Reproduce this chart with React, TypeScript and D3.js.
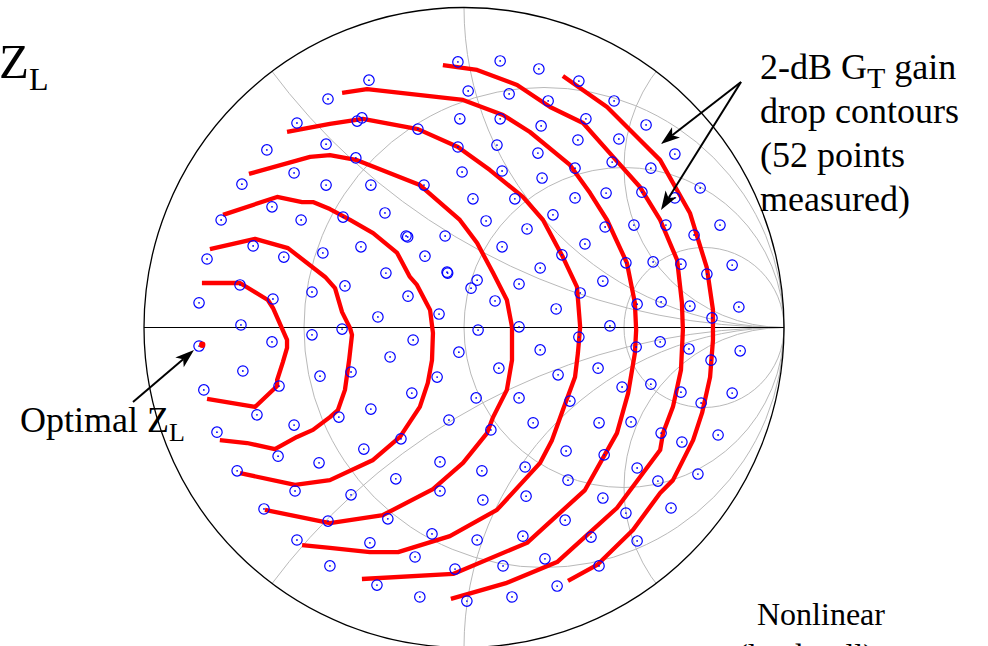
import React from "react";
import * as d3 from "d3";

// Reflection coefficients (Re Γ, Im Γ) of the measured load impedances
const measuredGamma: [number, number][] = [
  [-0.019, 0.83], [0.113, 0.833], [0.234, 0.808], [0.359, 0.77], [-0.297, 0.773],
  [0.013, 0.739], [0.141, 0.73], [0.263, 0.708], [0.469, 0.708], [-0.425, 0.714],
  [-0.334, 0.645], [-0.319, 0.655], [-0.013, 0.652], [0.113, 0.652], [0.241, 0.63],
  [0.381, 0.652], [0.569, 0.633], [-0.144, 0.62], [0.356, 0.586], [0.484, 0.589],
  [-0.431, 0.573], [-0.019, 0.564], [0.103, 0.57], [0.231, 0.545], [0.347, 0.498],
  [0.463, 0.517], [0.584, 0.498], [-0.338, 0.53], [-0.431, 0.445], [-0.006, 0.486],
  [0.119, 0.489], [0.244, 0.467], [-0.291, 0.445], [-0.125, 0.445], [0.028, 0.402],
  [0.159, 0.402], [0.347, 0.405], [0.444, 0.42], [0.556, 0.423], [-0.247, 0.358],
  [-0.378, 0.345], [0.069, 0.333], [0.278, 0.352], [-0.522, 0.639], [-0.616, 0.555],
  [-0.531, 0.483], [-0.694, 0.448], [-0.6, 0.377], [-0.509, 0.336], [-0.759, 0.336],
  [0.659, 0.542], [0.738, 0.436], [0.659, 0.405], [-0.659, 0.255], [-0.563, 0.22],
  [-0.441, 0.233], [-0.803, 0.214], [-0.7, 0.133], [-0.597, 0.089], [-0.475, 0.111],
  [-0.828, 0.077], [-0.697, 0.008], [-0.475, -0.023], [-0.828, -0.058], [-0.6, -0.045],
  [-0.691, -0.136], [-0.45, -0.152], [-0.813, -0.195], [-0.578, -0.183], [-0.647, -0.273],
  [-0.531, -0.305], [-0.772, -0.327], [0.197, 0.308], [0.441, 0.314], [0.531, 0.32],
  [-0.322, 0.252], [-0.181, 0.286], [-0.176, 0.283], [-0.059, 0.286], [0.119, 0.252],
  [0.378, 0.261], [-0.122, 0.223], [0.306, 0.227], [0.506, 0.202], [0.591, 0.205],
  [-0.244, 0.17], [-0.053, 0.173], [-0.051, 0.17], [0.238, 0.186], [0.434, 0.145],
  [-0.372, 0.13], [-0.175, 0.098], [0.041, 0.148], [0.022, 0.123], [0.172, 0.136],
  [0.363, 0.108], [0.541, 0.073], [0.616, 0.08], [-0.269, 0.033], [-0.078, 0.042],
  [0.097, 0.083], [0.288, 0.058], [-0.381, -0.005], [0.044, -0.008], [0.172, 0.002],
  [0.456, 0.005], [-0.159, -0.039], [0.359, -0.03], [0.538, -0.061], [0.613, -0.045],
  [-0.231, -0.092], [-0.016, -0.077], [0.238, -0.07], [-0.353, -0.139], [0.109, -0.127],
  [0.419, -0.127], [-0.084, -0.155], [0.294, -0.148], [0.494, -0.186], [0.584, -0.177],
  [-0.163, -0.205], [0.038, -0.22], [0.172, -0.22], [0.331, -0.23], [-0.291, -0.255],
  [-0.391, -0.28], [-0.047, -0.289], [0.216, -0.298], [0.422, -0.298], [0.522, -0.295],
  [-0.197, -0.348], [0.084, -0.32], [0.616, -0.33], [0.631, 0.32], [0.8, 0.32],
  [0.719, 0.289], [0.678, 0.198], [0.838, 0.195], [0.759, 0.167], [0.706, 0.067],
  [0.859, 0.064], [0.775, 0.03], [0.703, -0.067], [0.863, -0.073], [0.772, -0.102],
  [0.678, -0.202], [0.838, -0.205], [0.741, -0.236], [0.681, -0.358], [0.794, -0.336],
  [-0.581, -0.402], [-0.453, -0.423], [-0.709, -0.448], [-0.528, -0.511], [-0.625, -0.567],
  [-0.425, -0.605], [-0.522, -0.664], [-0.419, -0.745], [-0.313, -0.38], [-0.075, -0.42],
  [0.056, -0.448], [0.319, -0.386], [0.438, -0.398], [-0.213, -0.473], [0.191, -0.436],
  [0.325, -0.477], [0.541, -0.439], [0.606, -0.48], [-0.353, -0.523], [-0.075, -0.511],
  [0.059, -0.539], [0.194, -0.527], [0.434, -0.533], [-0.238, -0.598], [0.316, -0.602],
  [0.506, -0.58], [-0.1, -0.645], [0.041, -0.664], [0.184, -0.652], [0.397, -0.655],
  [0.541, -0.667], [-0.294, -0.673], [-0.153, -0.717], [-0.028, -0.755], [0.122, -0.745],
  [0.253, -0.723], [0.422, -0.745], [-0.272, -0.805], [-0.138, -0.842], [0.009, -0.855],
  [0.15, -0.842], [0.291, -0.808], [0.731, -0.458], [0.647, -0.564],
];

// Constant-gain-drop contours, innermost first (Re Γ, Im Γ)
const contour1: [number, number][] = [
  [-0.819, 0.139], [-0.7, 0.139], [-0.613, 0.086], [-0.597, 0.061], [-0.553, -0.039],
  [-0.553, -0.064], [-0.566, -0.108], [-0.584, -0.164], [-0.584, -0.183], [-0.653, -0.248],
  [-0.803, -0.223],
];
const contour2: [number, number][] = [
  [-0.794, 0.245], [-0.653, 0.277], [-0.55, 0.248], [-0.434, 0.158], [-0.403, 0.123],
  [-0.381, 0.048], [-0.356, -0.002], [-0.35, -0.023], [-0.359, -0.102], [-0.372, -0.195],
  [-0.394, -0.258], [-0.419, -0.28], [-0.472, -0.32], [-0.522, -0.342], [-0.591, -0.38],
  [-0.678, -0.361], [-0.763, -0.352],
];
const contour3: [number, number][] = [
  [-0.753, 0.352], [-0.584, 0.408], [-0.506, 0.392], [-0.472, 0.392], [-0.419, 0.37],
  [-0.356, 0.336], [-0.284, 0.295], [-0.209, 0.233], [-0.169, 0.158], [-0.147, 0.133],
  [-0.106, 0.055], [-0.097, -0.017], [-0.1, -0.102], [-0.113, -0.173], [-0.138, -0.248],
  [-0.2, -0.342], [-0.284, -0.414], [-0.419, -0.477], [-0.528, -0.492], [-0.7, -0.455],
];
const contour4: [number, number][] = [
  [-0.672, 0.48], [-0.481, 0.533], [-0.419, 0.539], [-0.334, 0.523], [-0.138, 0.445],
  [-0.013, 0.336], [0.041, 0.264], [0.091, 0.17], [0.134, 0.086], [0.15, 0.002],
  [0.15, -0.102], [0.134, -0.195], [0.091, -0.28], [0.072, -0.33], [-0.003, -0.423],
  [-0.097, -0.505], [-0.253, -0.586], [-0.419, -0.611], [-0.622, -0.57],
];
const contour5: [number, number][] = [
  [-0.553, 0.611], [-0.419, 0.636], [-0.316, 0.652], [-0.144, 0.62], [-0.019, 0.564],
  [0.081, 0.492], [0.184, 0.408], [0.247, 0.336], [0.309, 0.22], [0.353, 0.127],
  [0.363, 0.002], [0.356, -0.08], [0.347, -0.155], [0.309, -0.258], [0.275, -0.352],
  [0.238, -0.423], [0.103, -0.57], [-0.044, -0.652], [-0.206, -0.702], [-0.294, -0.702],
  [-0.419, -0.689], [-0.506, -0.68],
];
const contour6: [number, number][] = [
  [-0.381, 0.733], [-0.303, 0.745], [-0.003, 0.711], [0.122, 0.664], [0.206, 0.611],
  [0.331, 0.508], [0.394, 0.42], [0.447, 0.336], [0.509, 0.202], [0.534, 0.077],
  [0.538, -0.008], [0.534, -0.08], [0.513, -0.205], [0.478, -0.33], [0.378, -0.508],
  [0.197, -0.673], [-0.034, -0.77], [-0.319, -0.786],
];
const contour7: [number, number][] = [
  [-0.066, 0.82], [0.041, 0.805], [0.166, 0.758], [0.269, 0.689], [0.372, 0.639],
  [0.466, 0.533], [0.55, 0.439], [0.613, 0.336], [0.666, 0.211], [0.681, 0.077],
  [0.684, -0.008], [0.678, -0.133], [0.653, -0.248], [0.622, -0.33], [0.613, -0.383],
  [0.478, -0.564], [0.291, -0.733], [0.134, -0.798], [-0.041, -0.848],
];
const contour8: [number, number][] = [
  [0.309, 0.786], [0.447, 0.689], [0.55, 0.586], [0.613, 0.523], [0.706, 0.358],
  [0.759, 0.186], [0.778, 0.055], [0.778, -0.039], [0.769, -0.155], [0.744, -0.267],
  [0.716, -0.352], [0.653, -0.477], [0.613, -0.517], [0.528, -0.633], [0.416, -0.742],
  [0.325, -0.792],
];
const contours = [contour1, contour2, contour3, contour4, contour5, contour6, contour7, contour8];

// Smith chart grid: normalized resistance circles and reactance arcs
const resistanceValues = [1 / 3, 1, 3];
const reactanceValues = [0.5, 1, 2, -0.5, -1, -2];

// Best load reflection coefficient
const optimalZL: [number, number] = [-0.818, -0.054];

const SERIF = "'Liberation Serif', 'Times New Roman', Times, serif";

function arrowHead(x1: number, y1: number, x2: number, y2: number, len: number, half: number) {
  const dx = x2 - x1, dy = y2 - y1;
  const d = Math.hypot(dx, dy);
  const ux = dx / d, uy = dy / d;
  const px = -uy, py = ux;
  const bx = x2 - ux * len, by = y2 - uy * len;
  const nx = x2 - ux * len * 0.75, ny = y2 - uy * len * 0.75;
  return {
    points: [
      [x2, y2],
      [bx + px * half, by + py * half],
      [nx, ny],
      [bx - px * half, by - py * half],
    ].map((p) => p.join(",")).join(" "),
    lx: nx, ly: ny,
  };
}

function Arrow({ x1, y1, x2, y2 }: { x1: number; y1: number; x2: number; y2: number }) {
  const h = arrowHead(x1, y1, x2, y2, 19, 6.5);
  return (
    <g>
      <line x1={x1} y1={y1} x2={h.lx} y2={h.ly} stroke="#000" strokeWidth={2} />
      <polygon points={h.points} fill="#000" />
    </g>
  );
}

export default function App() {
  const W = 988, H = 646;
  const cx = 464, cy = 327.5, R = 320;
  const x = d3.scaleLinear().domain([-1, 1]).range([cx - R, cx + R]);
  const y = d3.scaleLinear().domain([-1, 1]).range([cy + R, cy - R]);
  const unit = (v: number) => x(v) - x(0);
  const line = d3.line<[number, number]>().x((d) => x(d[0])).y((d) => y(d[1]));

  const grid = "#b9b9b9";

  return (
    <div style={{ position: "absolute", left: 0, top: 0 }}>
      <svg width={W} height={H} viewBox={`0 0 ${W} ${H}`} style={{ display: "block", background: "#fff" }}>
        <defs>
          <clipPath id="unitDisk">
            <circle cx={x(0)} cy={y(0)} r={unit(1)} />
          </clipPath>
        </defs>
        <rect width={W} height={H} fill="#fff" />

        {/* Smith chart grid */}
        <g fill="none" stroke={grid} strokeWidth={1}>
          {resistanceValues.map((r) => (
            <circle key={`r${r}`} cx={x(r / (1 + r))} cy={y(0)} r={unit(1 / (1 + r))} />
          ))}
          <g clipPath="url(#unitDisk)">
            {reactanceValues.map((xv) => (
              <circle key={`x${xv}`} cx={x(1)} cy={y(1 / xv)} r={unit(Math.abs(1 / xv))} />
            ))}
          </g>
        </g>
        <line x1={x(-1)} y1={y(0)} x2={x(1)} y2={y(0)} stroke="#000" strokeWidth={1.2} />
        <circle cx={x(0)} cy={y(0)} r={unit(1)} fill="none" stroke="#000" strokeWidth={1.3} />

        {/* Gain-drop contours */}
        <g fill="none" stroke="#ff0000" strokeWidth={4.3} strokeLinejoin="round" strokeLinecap="butt">
          {contours.map((c, i) => (
            <path key={i} d={line(c) ?? ""} />
          ))}
        </g>

        {/* Measured load points */}
        <g>
          {measuredGamma.map((p, i) => (
            <g key={i}>
              <circle cx={x(p[0])} cy={y(p[1])} r={5.2} fill="none" stroke="#0000ff" strokeWidth={1.2} />
              <circle cx={x(p[0])} cy={y(p[1])} r={0.9} fill="#0000ff" />
            </g>
          ))}
        </g>
        <circle cx={x(optimalZL[0])} cy={y(optimalZL[1])} r={3.2} fill="#ff0000" />

        {/* Annotations */}
        <Arrow x1={741} y1={82} x2={661} y2={144} />
        <Arrow x1={741} y1={82} x2={661} y2={210} />
        <Arrow x1={133} y1={402} x2={194} y2={350} />

        <g fontFamily={SERIF} fill="#000">
          <text x={-1} y={78} fontSize={49}>
            Z<tspan fontSize={32} dy={12}>L</tspan>
          </text>

          <text x={20} y={432} fontSize={36}>
            Optimal Z<tspan fontSize={26} dy={9}>L</tspan>
          </text>

          <text x={760} y={79} fontSize={36}>
            2-dB G<tspan fontSize={30} dy={9}>T</tspan>
            <tspan dy={-9}> gain</tspan>
          </text>
          <text x={760} y={123} fontSize={36}>drop contours</text>
          <text x={760} y={167} fontSize={36}>(52 points</text>
          <text x={760} y={211} fontSize={36}>measured)</text>

          <text x={757} y={625} fontSize={32}>Nonlinear</text>
          <text x={737} y={666} fontSize={32}>(load-pull)</text>
        </g>
      </svg>
    </div>
  );
}
